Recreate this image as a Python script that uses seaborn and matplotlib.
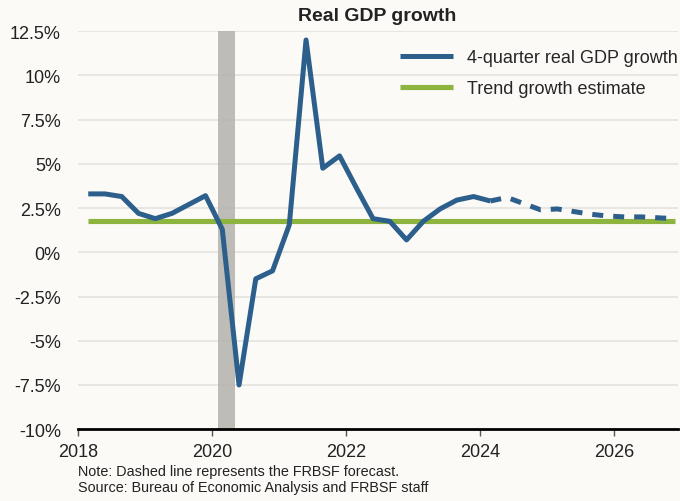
import numpy as np
import pandas as pd
import matplotlib
matplotlib.use("Agg")
import matplotlib.pyplot as plt
import seaborn as sns

# quarterly 4-quarter real GDP growth, 2018Q1 .. 2026Q4
actual = [3.3, 3.3, 3.15, 2.2, 1.9, 2.2, 2.7, 3.2,
          1.3, -7.5, -1.5, -1.05, 1.55, 12.0, 4.75, 5.45,
          3.65, 1.9, 1.75, 0.7, 1.75, 2.45, 2.95, 3.15,
          2.9]
forecast = [2.9, 3.1, 2.75, 2.4, 2.45, 2.3, 2.15, 2.05,
            2.0, 2.0, 1.95, 1.9]
trend = 1.75
recession = (2020.083, 2020.333)

labels = ["4-quarter real GDP growth", "Trend growth estimate"]
note = "Note: Dashed line represents the FRBSF forecast.\nSource: Bureau of Economic Analysis and FRBSF staff"

blue = "#2d5f8c"
green = "#8db43e"
bg = "#fbfaf7"

t_act = 2018.15 + 0.25 * np.arange(len(actual))
t_fc = t_act[-1] + 0.25 * np.arange(len(forecast))
df_act = pd.DataFrame({"date": t_act, "growth": actual})
df_fc = pd.DataFrame({"date": t_fc, "growth": forecast})
df_tr = pd.DataFrame({"date": [t_act[0], t_fc[-1]], "growth": [trend, trend]})

sns.set_style("white")
plt.rcParams["font.family"] = ["Liberation Sans", "DejaVu Sans"]

fig = plt.figure(figsize=(6.8, 5.02), dpi=100, facecolor=bg)
ax = fig.add_axes([0.115, 0.143, 0.882, 0.793])
ax.set_facecolor(bg)

ax.axvspan(*recession, color="#b3b1ac", alpha=0.85, lw=0, zorder=1)

sns.lineplot(data=df_tr, x="date", y="growth", ax=ax, color=green, lw=3.7,
             label=labels[1], zorder=2)
sns.lineplot(data=df_act, x="date", y="growth", ax=ax, color=blue, lw=3.6,
             label=labels[0], zorder=3)
sns.lineplot(data=df_fc, x="date", y="growth", ax=ax, color=blue, lw=3.6,
             zorder=3)
for ln in ax.lines:
    ln.set_solid_capstyle("butt")
ax.lines[-1].set_dashes((2.2, 2.0))
ax.lines[-1].set_dash_capstyle("butt")

ax.set_xlim(2018, 2026.95)
ax.set_ylim(-10, 12.5)
ax.set_xticks([2018, 2020, 2022, 2024, 2026])
yt = np.arange(-10, 12.6, 2.5)
ax.set_yticks(yt)
ax.set_yticklabels([f"{v:g}%" for v in yt])
ax.yaxis.grid(True, color="#e3e2df", lw=1.2)
ax.set_axisbelow(True)
for s in ["top", "right", "left"]:
    ax.spines[s].set_visible(False)
ax.spines["bottom"].set_color("black")
ax.spines["bottom"].set_linewidth(2)
ax.tick_params(axis="x", bottom=True, length=5, width=1, color="#555555",
               labelsize=13, labelcolor="#222222", pad=5)
ax.tick_params(axis="y", left=False, labelsize=13, labelcolor="#222222", pad=9)
ax.set_xlabel("")
ax.set_ylabel("")

h, l = ax.get_legend_handles_labels()
ax.legend([h[1], h[0]], [l[1], l[0]], loc="upper right", bbox_to_anchor=(1.027, 0.995),
          frameon=False, fontsize=13, handlelength=2.9, handletextpad=0.8,
          labelspacing=0.75)

fig.text(0.555, 0.968, "Real GDP growth", ha="center", va="center",
         fontsize=14, fontweight="bold", color="#222222")
fig.text(0.115, 0.044, note, ha="left", va="center", fontsize=10.4,
         color="#222222", linespacing=1.2)

fig.savefig("out.png", dpi=100, facecolor=bg)
